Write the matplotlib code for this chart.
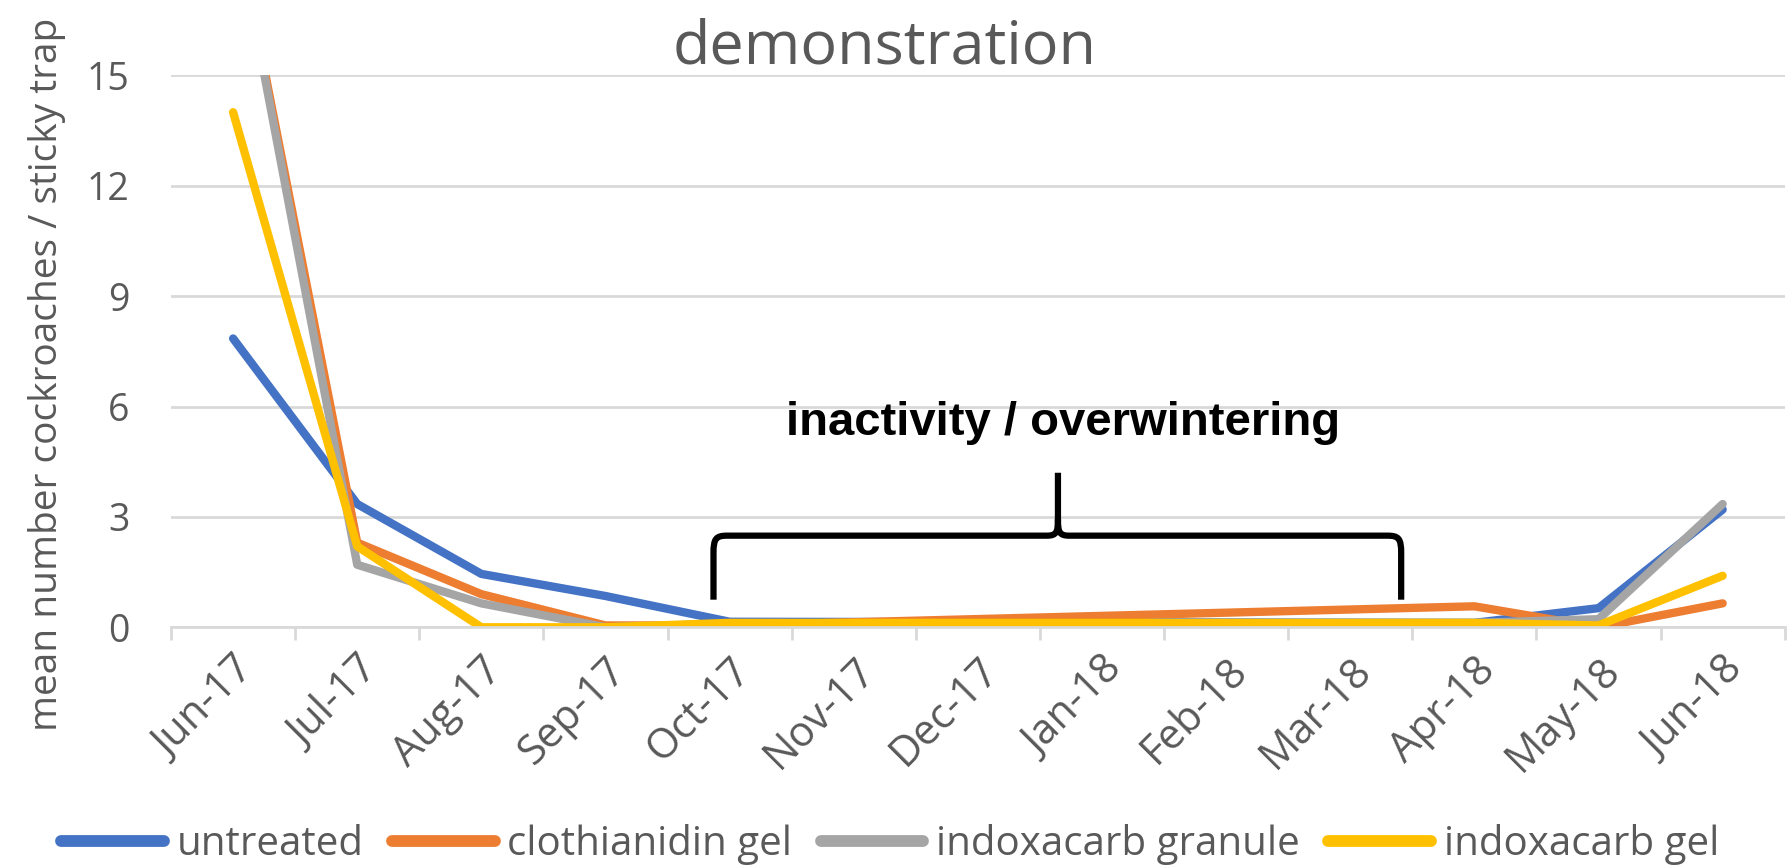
import numpy as np
import matplotlib.pyplot as plt
from matplotlib.path import Path
from matplotlib.patches import PathPatch
from matplotlib.lines import Line2D

months = ['Jun-17', 'Jul-17', 'Aug-17', 'Sep-17', 'Oct-17', 'Nov-17', 'Dec-17',
          'Jan-18', 'Feb-18', 'Mar-18', 'Apr-18', 'May-18', 'Jun-18']
nan = np.nan
untreated = [7.85, 3.35, 1.45, 0.85, 0.15, nan, nan, nan, nan, nan, 0.12, 0.52, 3.2]
clothianidin_gel = [19.5, 2.3, 0.9, 0.05, 0.05, nan, nan, nan, nan, nan, 0.57, 0.0, 0.65]
indoxacarb_granule = [19.5, 1.7, 0.65, 0.0, 0.1, nan, nan, nan, nan, nan, 0.12, 0.22, 3.35]
indoxacarb_gel = [14.0, 2.2, 0.0, 0.0, 0.12, nan, nan, nan, nan, nan, 0.12, 0.05, 1.4]

series = [('untreated', untreated, '#4472C4'),
          ('clothianidin gel', clothianidin_gel, '#ED7D31'),
          ('indoxacarb granule', indoxacarb_granule, '#A5A5A5'),
          ('indoxacarb gel', indoxacarb_gel, '#FFC000')]

plt.rcParams['font.family'] = ['Open Sans', 'DejaVu Sans']
grey_txt = '#595959'
grid_c = '#D9D9D9'

fig = plt.figure(figsize=(17.91, 8.67), dpi=100)
ax = fig.add_axes([0.0955, 0.2765, 0.901, 0.6365])

x = np.arange(len(months))
for name, vals, col in series:
    v = np.array(vals, dtype=float)
    ok = ~np.isnan(v)
    ax.plot(x[ok], v[ok], color=col, lw=6, solid_joinstyle='round',
            solid_capstyle='round', label=name)

ax.set_xlim(-0.5, len(months) - 0.5)
ax.set_ylim(0, 15)
ax.set_yticks(np.arange(0, 16, 3))
ax.yaxis.grid(True, color=grid_c, lw=2)
ax.set_axisbelow(True)
for s in ['top', 'right', 'left']:
    ax.spines[s].set_visible(False)
ax.spines['bottom'].set_color(grid_c)
ax.spines['bottom'].set_linewidth(2)

ax.set_xticks(x)
ax.set_xticklabels(months, rotation=45, ha='right', va='top', rotation_mode='anchor')
ax.set_xticks(np.arange(-0.5, len(months)), minor=True)
ax.tick_params(axis='x', which='major', length=0, pad=16, labelsize=30, labelcolor=grey_txt)
ax.tick_params(axis='x', which='minor', length=9, width=2, color=grid_c)
ax.tick_params(axis='y', length=0, pad=30, labelsize=27, labelcolor=grey_txt)

fig.text(0.026, 0.568, 'mean number cockroaches / sticky trap', rotation=90,
         ha='center', va='center', fontsize=28, color=grey_txt)
fig.text(0.494, 0.927, 'demonstration', ha='center', va='baseline',
         fontsize=44, color=grey_txt)

# brace over the overwintering months
xl, xr, xm = 3.87, 9.41, 6.645
yb, yh, yt = 0.75, 2.49, 4.2
cx, cy = 0.11, 0.47
verts = [(xl, yb), (xl, yh - cy), (xl, yh - 0.08), (xl + 0.02, yh), (xl + cx, yh),
         (xm - 0.09, yh), (xm - 0.01, yh), (xm, yh + 0.1), (xm, yh + 0.45), (xm, yt),
         (xr, yb), (xr, yh - cy), (xr, yh - 0.08), (xr - 0.02, yh), (xr - cx, yh),
         (xm + 0.09, yh), (xm + 0.01, yh), (xm, yh + 0.1), (xm, yh + 0.45)]
codes = [Path.MOVETO, Path.LINETO, Path.CURVE4, Path.CURVE4, Path.CURVE4,
         Path.LINETO, Path.CURVE4, Path.CURVE4, Path.CURVE4, Path.LINETO,
         Path.MOVETO, Path.LINETO, Path.CURVE4, Path.CURVE4, Path.CURVE4,
         Path.LINETO, Path.CURVE4, Path.CURVE4, Path.CURVE4]
ax.add_patch(PathPatch(Path(verts, codes), fill=False, lw=4.5, color='black',
                       capstyle='butt', joinstyle='round'))
ax.text(6.685, 5.23, 'inactivity / overwintering', ha='center', va='baseline',
        fontsize=34, fontweight='bold', family=['Liberation Sans', 'DejaVu Sans'],
        color='black')

handles = [Line2D([], [], color=c, lw=8.5, solid_capstyle='round') for _, _, c in series]
fig.legend(handles, [n for n, _, _ in series], loc='center',
           bbox_to_anchor=(0.497, 0.026), ncol=4, frameon=False, fontsize=29,
           labelcolor=grey_txt, handlelength=2.55, handletextpad=0.32,
           columnspacing=0.7, borderaxespad=0, borderpad=0)

fig.savefig('out.png', dpi=100)
